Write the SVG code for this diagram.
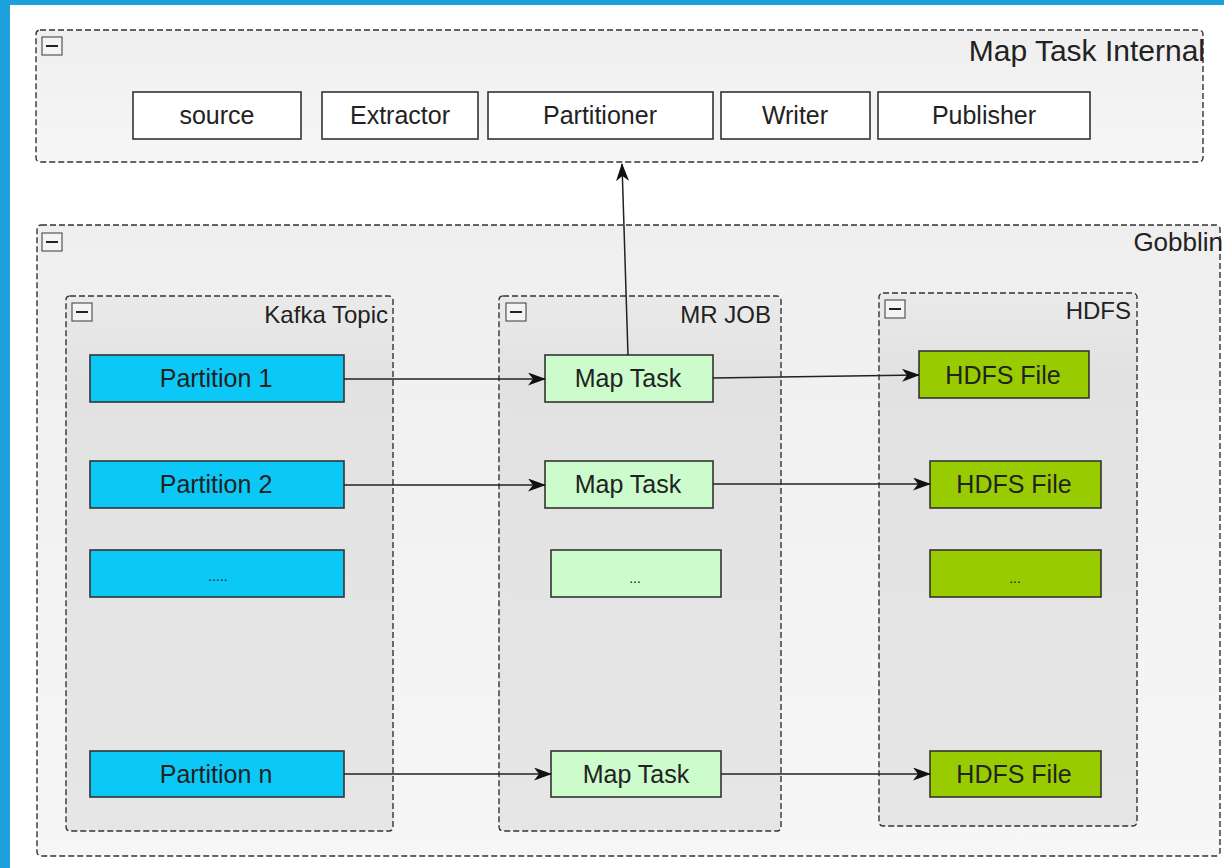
<svg xmlns="http://www.w3.org/2000/svg" width="1224" height="868" viewBox="0 0 1224 868">
  <defs>
    <style>
      text { font-family: "Liberation Sans", Arial, sans-serif; fill: #222; }
      .cont { stroke: #333; stroke-width: 1.4; stroke-dasharray: 6 3; }
      .box { stroke: #333; stroke-width: 1.6; }
      .white { fill: #ffffff; }
      .part { fill: #0cc8f6; }
      .map { fill: #ccfccc; }
      .hdfs { fill: #99cc00; }
      .lbl { font-size: 25px; text-anchor: middle; }
      .ctitle { font-size: 24px; text-anchor: end; }
      .dots { font-size: 14px; text-anchor: middle; }
      .icon { fill: #f4f4f4; stroke: #555; stroke-width: 1.2; }
      .minus { stroke: #222; stroke-width: 2; }
      .edge { fill: none; stroke: #222; stroke-width: 1.5; }
    </style>
    <linearGradient id="gOuter" x1="0" y1="0" x2="0" y2="1">
      <stop offset="0" stop-color="#efefef"/>
      <stop offset="1" stop-color="#f6f6f6"/>
    </linearGradient>
    <linearGradient id="gInner" x1="0" y1="0" x2="0" y2="1">
      <stop offset="0" stop-color="#eaeaea"/>
      <stop offset="0.15" stop-color="#e2e2e2"/>
      <stop offset="1" stop-color="#e6e6e6"/>
    </linearGradient>
    <marker id="arr" viewBox="0 0 18 13" refX="17" refY="6.5" markerWidth="18" markerHeight="13" markerUnits="userSpaceOnUse" orient="auto">
      <path d="M0,0 L18,6.5 L0,13 L5,6.5 Z" fill="#111"/>
    </marker>
  </defs>

  <!-- background and frame -->
  <rect x="0" y="0" width="1224" height="868" fill="#ffffff"/>
  <rect x="0" y="0" width="1224" height="5" fill="#1ea0dc"/>
  <rect x="0" y="0" width="10" height="868" fill="#1ea0dc"/>

  <!-- Map Task Internal container -->
  <g id="map-task-internal">
    <rect class="cont" x="36" y="30" width="1167" height="132" rx="4" fill="url(#gOuter)"/>
    <rect class="icon" x="42" y="37" width="20" height="18"/>
    <line class="minus" x1="46" y1="46" x2="58" y2="46"/>
    <text x="1205" y="61" style="font-size:30px" text-anchor="end">Map Task Internal</text>
  </g>
  <g id="source"><rect class="box white" x="133" y="92" width="168" height="47"/><text class="lbl" x="217" y="124">source</text></g>
  <g id="extractor"><rect class="box white" x="322" y="92" width="156" height="47"/><text class="lbl" x="400" y="124">Extractor</text></g>
  <g id="partitioner"><rect class="box white" x="488" y="92" width="225" height="47"/><text class="lbl" x="600" y="124">Partitioner</text></g>
  <g id="writer"><rect class="box white" x="721" y="92" width="149" height="47"/><text class="lbl" x="795" y="124">Writer</text></g>
  <g id="publisher"><rect class="box white" x="878" y="92" width="212" height="47"/><text class="lbl" x="984" y="124">Publisher</text></g>

  <!-- Gobblin container -->
  <g id="gobblin">
    <rect class="cont" x="37" y="225" width="1183" height="631" rx="4" fill="url(#gOuter)"/>
    <rect class="icon" x="42" y="233" width="20" height="18"/>
    <line class="minus" x1="46" y1="242" x2="58" y2="242"/>
    <text x="1223" y="251" style="font-size:26px" text-anchor="end">Gobblin</text>
  </g>

  <!-- Kafka Topic -->
  <g id="kafka-topic">
    <rect class="cont" x="66" y="296" width="327" height="535" rx="4" fill="url(#gInner)"/>
    <rect class="icon" x="72" y="303" width="20" height="18"/>
    <line class="minus" x1="76" y1="312" x2="88" y2="312"/>
    <text class="ctitle" x="388" y="323">Kafka Topic</text>
  </g>
  <!-- MR JOB -->
  <g id="mr-job">
    <rect class="cont" x="499" y="296" width="282" height="535" rx="4" fill="url(#gInner)"/>
    <rect class="icon" x="506" y="303" width="20" height="18"/>
    <line class="minus" x1="510" y1="312" x2="522" y2="312"/>
    <text class="ctitle" x="771" y="323">MR JOB</text>
  </g>
  <!-- HDFS -->
  <g id="hdfs">
    <rect class="cont" x="879" y="293" width="258" height="533" rx="4" fill="url(#gInner)"/>
    <rect class="icon" x="885" y="300" width="20" height="18"/>
    <line class="minus" x1="889" y1="309" x2="901" y2="309"/>
    <text class="ctitle" x="1131" y="319">HDFS</text>
  </g>

  <!-- Partitions -->
  <g id="partition-1"><rect class="box part" x="90" y="355" width="254" height="47"/><text class="lbl" x="216" y="387">Partition 1</text></g>
  <g id="partition-2"><rect class="box part" x="90" y="461" width="254" height="47"/><text class="lbl" x="216" y="493">Partition 2</text></g>
  <g id="partition-dots"><rect class="box part" x="90" y="550" width="254" height="47"/><text class="dots" x="218" y="581">.....</text></g>
  <g id="partition-n"><rect class="box part" x="90" y="751" width="254" height="46"/><text class="lbl" x="216" y="783">Partition n</text></g>

  <!-- Map Tasks -->
  <g id="map-task-1"><rect class="box map" x="545" y="355" width="168" height="47"/><text class="lbl" x="628" y="387">Map Task</text></g>
  <g id="map-task-2"><rect class="box map" x="545" y="461" width="168" height="47"/><text class="lbl" x="628" y="493">Map Task</text></g>
  <g id="map-task-dots"><rect class="box map" x="551" y="550" width="170" height="47"/><text class="dots" x="635" y="583">...</text></g>
  <g id="map-task-n"><rect class="box map" x="551" y="751" width="170" height="46"/><text class="lbl" x="636" y="783">Map Task</text></g>

  <!-- HDFS Files -->
  <g id="hdfs-file-1"><rect class="box hdfs" x="919" y="351" width="170" height="47"/><text class="lbl" x="1003" y="384">HDFS File</text></g>
  <g id="hdfs-file-2"><rect class="box hdfs" x="930" y="461" width="171" height="47"/><text class="lbl" x="1014" y="493">HDFS File</text></g>
  <g id="hdfs-file-dots"><rect class="box hdfs" x="930" y="550" width="171" height="47"/><text class="dots" x="1015" y="583">...</text></g>
  <g id="hdfs-file-n"><rect class="box hdfs" x="930" y="751" width="171" height="46"/><text class="lbl" x="1014" y="783">HDFS File</text></g>

  <!-- connectors -->
  <g id="connectors">
    <line class="edge" x1="344" y1="379" x2="545" y2="379" marker-end="url(#arr)"/>
    <line class="edge" x1="713" y1="378" x2="919" y2="375" marker-end="url(#arr)"/>
    <line class="edge" x1="344" y1="485" x2="545" y2="485" marker-end="url(#arr)"/>
    <line class="edge" x1="713" y1="484" x2="930" y2="484" marker-end="url(#arr)"/>
    <line class="edge" x1="344" y1="774" x2="551" y2="774" marker-end="url(#arr)"/>
    <line class="edge" x1="721" y1="774" x2="930" y2="774" marker-end="url(#arr)"/>
    <line class="edge" x1="628" y1="355" x2="622" y2="164" marker-end="url(#arr)"/>
  </g>
</svg>
